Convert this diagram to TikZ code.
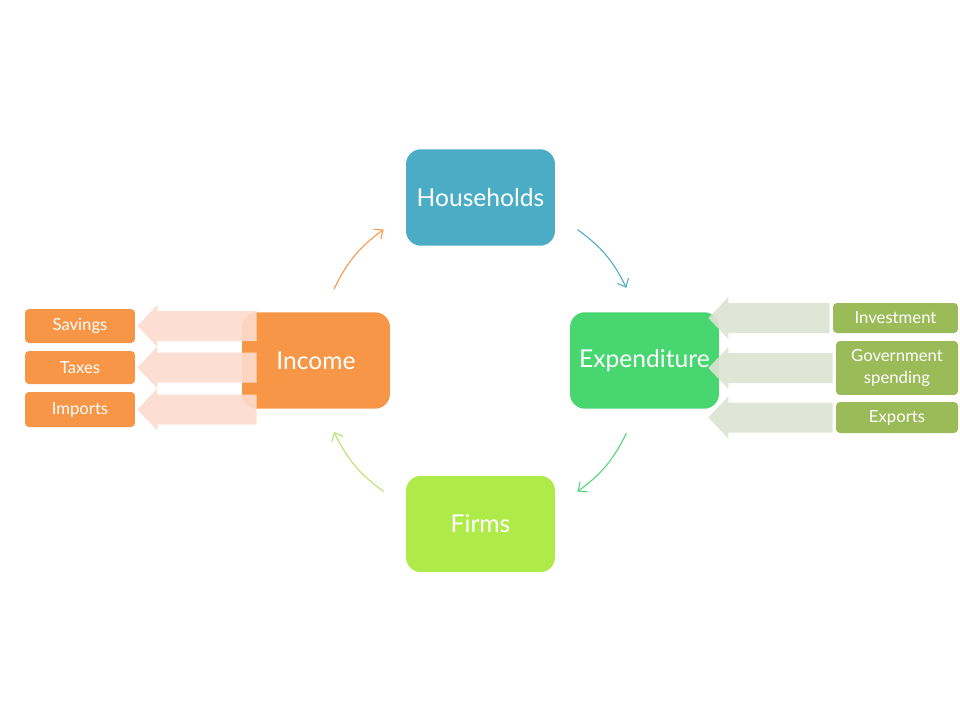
\documentclass[tikz,border=0pt]{standalone}
\usepackage{fontspec}
\setmainfont{Lato}
\usetikzlibrary{calc}
\usetikzlibrary{arrows.meta}

\definecolor{hhblue}{RGB}{75,172,198}
\definecolor{expgreen}{RGB}{72,214,112}
\definecolor{firmlime}{RGB}{174,234,72}
\definecolor{incorange}{RGB}{247,150,70}
\definecolor{olive}{RGB}{155,187,89}
\definecolor{peach}{RGB}{252,220,205}
\definecolor{sage}{RGB}{220,227,208}
\definecolor{limeline}{RGB}{182,227,106}

% wide arrow pointing left, tail x from #2, tip at #3
\newcommand{\fatarrow}[3]{%
  \fill[#1] let \p1=#2, \p2=#3 in
    (\x1,\y2+0.3cm) -- (\x2+0.4cm,\y2+0.3cm) -- (\x2+0.4cm,\y2+0.42cm) -- (\x2,\y2)
    -- (\x2+0.4cm,\y2-0.42cm) -- (\x2+0.4cm,\y2-0.3cm) -- (\x1,\y2-0.3cm) -- cycle;}

\begin{document}
\begin{tikzpicture}[x=0.02cm, y=-0.02cm,
	bigbox/.style={rounded corners=0.3cm, minimum width=2.98cm, minimum height=1.93cm, text=white, font=\fontsize{14}{17}\selectfont},
	smallbox/.style={rounded corners=0.08cm, inner sep=0pt, text=white, font=\fontsize{9.5}{13}\selectfont},
	flow/.style={line width=0.6pt, -{Straight Barb[length=4pt,width=7pt]}},
	incarr/.style={fill=peach, fill opacity=0.9},
	exparr/.style={fill=sage, fill opacity=0.9}]
	\useasboundingbox (0,0) rectangle (960,720);

	\node[bigbox, fill=hhblue] (hh) at (480.5,197.5) {Households};
	\node[bigbox, fill=expgreen] (exp) at (644.5,360.5) {Expenditure};
	\node[bigbox, fill=firmlime] (firm) at (480.5,524) {Firms};
	\node[bigbox, fill=incorange, minimum width=2.96cm] (inc) at (316,360.5) {Income};

	\node[smallbox, fill=incorange, minimum width=2.2cm, minimum height=0.68cm] (sav) at (80,326) {Savings};
	\node[smallbox, fill=incorange, minimum width=2.2cm, minimum height=0.66cm] (tax) at (80,367.5) {Taxes};
	\node[smallbox, fill=incorange, minimum width=2.2cm, minimum height=0.7cm] (imp) at (80,409.5) {Imports};

	\node[smallbox, fill=olive, minimum width=2.5cm, minimum height=0.6cm] (inv) at (895.5,318) {Investment};
	\node[smallbox, fill=olive, minimum width=2.44cm, minimum height=1.08cm, align=center] (gov) at (897,368) {Government\\spending};
	\node[smallbox, fill=olive, minimum width=2.44cm, minimum height=0.62cm] (expo) at (897,417.5) {Exports};

	% leakages
	\fatarrow{incarr}{($(inc.west)+(0.3cm,0)$)}{($(sav.east)+(0.04cm,0)$)}
	\fatarrow{incarr}{($(inc.west)+(0.3cm,0)$)}{($(tax.east)+(0.04cm,0)$)}
	\fatarrow{incarr}{($(inc.west)+(0.3cm,0)$)}{($(imp.east)+(0.04cm,0)$)}

	% injections
	\fatarrow{exparr}{($(inv.west)+(-0.06cm,0)$)}{($(exp.east |- inv.west)+(-0.22cm,0)$)}
	\fatarrow{exparr}{($(gov.west)+(-0.06cm,0)$)}{($(exp.east |- gov.west)+(-0.22cm,0)$)}
	\fatarrow{exparr}{($(expo.west)+(-0.06cm,0)$)}{($(exp.east |- expo.west)+(-0.22cm,0)$)}

	% circular flow
	\coordinate (c) at (480.5,360.5);
	\coordinate (inc-out) at ($(c)+(154:3.26cm)$);
	\coordinate (hh-in) at ($(c)+(126.5:3.26cm)$);
	\coordinate (hh-out) at ($(c)+(53.5:3.26cm)$);
	\coordinate (exp-in) at ($(c)+(26.5:3.26cm)$);
	\coordinate (exp-out) at ($(c)+(-26.5:3.26cm)$);
	\coordinate (firm-in) at ($(c)+(-53.5:3.26cm)$);
	\coordinate (firm-out) at ($(c)+(-126.5:3.26cm)$);
	\coordinate (inc-in) at ($(c)+(-154:3.26cm)$);

	\draw[flow, incorange] (inc-out) to[bend left=14] (hh-in);
	\draw[flow, hhblue] (hh-out) to[bend left=14] (exp-in);
	\draw[flow, expgreen] (exp-out) to[bend left=14] (firm-in);
	\draw[flow, limeline] (firm-out) to[bend left=14] (inc-in);
\end{tikzpicture}
\end{document}
